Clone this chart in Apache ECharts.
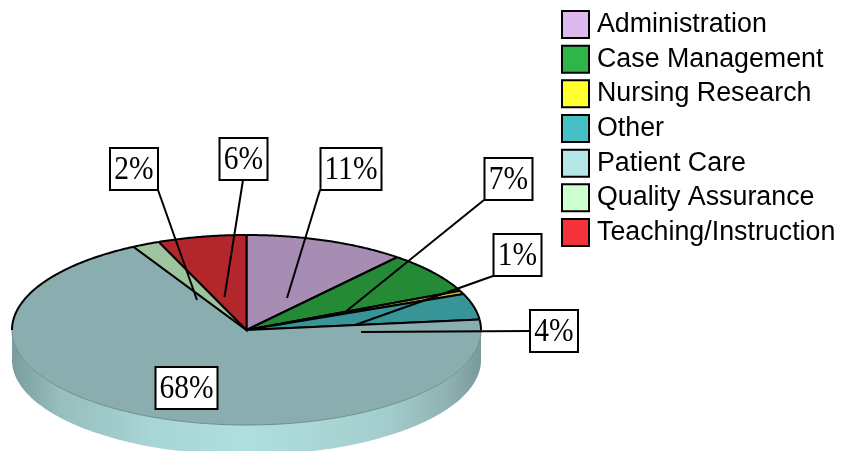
<!DOCTYPE html>
<html>
<head>
<meta charset="utf-8">
<style>
  html, body { margin: 0; padding: 0; background: #fff; }
  #chart { width: 843px; height: 451px; }
</style>
<script src="https://cdn.jsdelivr.net/npm/echarts@6/dist/echarts.min.js"></script>
</head>
<body>
<div id="chart"></div>
<script>
const categories = ['Administration', 'Case Management', 'Nursing Research', 'Other', 'Patient Care', 'Quality Assurance', 'Teaching/Instruction'];
const shares = [11.1, 7.1, 0.6, 4.4, 68.7, 1.9, 6.1];
const shareLabels = ['11%', '7%', '1%', '4%', '68%', '2%', '6%'];

const legendColors = ['#DDB9EE', '#2FB548', '#FFFF2F', '#45C1C5', '#B5E6E8', '#CFFFCF', '#F5313B'];
const faceColors = ['#A78DB3', '#258A35', '#C2B72A', '#379497', '#8AAEAF', '#9DC49C', '#B3262B'];

/* Pie ellipse */
const cx = 246.5;
const cy = 330;
const rx = 234.5;
const ry = 95;
const depth = 30;

const total = shares.reduce((a, b) => a + b, 0);

// angle is clockwise from 12 o'clock, in degrees
const pointAt = (deg, drop = 0) => {
  const rad = (deg * Math.PI) / 180;
  return [cx + rx * Math.sin(rad), cy - ry * Math.cos(rad) + drop];
};

const arcPoints = (from, to, drop = 0) => {
  const pts = [];
  const steps = Math.max(2, Math.ceil(Math.abs(to - from) * 2));
  for (let i = 0; i <= steps; i++) {
    pts.push(pointAt(from + ((to - from) * i) / steps, drop));
  }
  return pts;
};

const sideGradient = new echarts.graphic.LinearGradient(0, 0, 1, 0, [
  { offset: 0, color: '#7A9C9C' },
  { offset: 0.1, color: '#97BDBD' },
  { offset: 0.3, color: '#A8D5D5' },
  { offset: 0.5, color: '#B0DFDF' },
  { offset: 0.8, color: '#A3CDCD' },
  { offset: 0.93, color: '#8FB1B1' },
  { offset: 1, color: '#789A9A' }
]);

const renderSlice = (params, api) => {
  const from = (api.value(0) / total) * 360;
  const to = from + (api.value(1) / total) * 360;
  const index = params.seriesIndex;
  const children = [];

  // rim, only where the slice faces the viewer
  const sideFrom = Math.max(from, 90);
  const sideTo = Math.min(to, 270);
  if (sideTo > sideFrom) {
    const upper = arcPoints(sideFrom, sideTo);
    const lower = arcPoints(sideFrom, sideTo, depth).reverse();
    children.push({
      type: 'polygon',
      shape: { points: upper.concat(lower) },
      style: { fill: sideGradient, stroke: null }
    });
  }

  children.push({
    type: 'polygon',
    shape: { points: [[cx, cy]].concat(arcPoints(from, to)) },
    style: { fill: faceColors[index], stroke: null }
  });

  // thin edge along the front of the top face
  if (sideTo > sideFrom) {
    children.push({
      type: 'polyline',
      shape: { points: arcPoints(sideFrom, sideTo) },
      style: { fill: null, stroke: '#6C8A8A', lineWidth: 1 }
    });
  }

  // black outline: radials and the back half of the arc
  const backPts = [];
  if (from < 90) backPts.push(arcPoints(from, Math.min(to, 90)));
  if (to > 270) backPts.push(arcPoints(Math.max(from, 270), to));
  backPts.forEach(points => {
    children.push({
      type: 'polyline',
      shape: { points },
      style: { fill: null, stroke: '#000', lineWidth: 2 }
    });
  });
  children.push({
    type: 'polyline',
    shape: { points: [pointAt(from), [cx, cy], pointAt(to)] },
    style: { fill: null, stroke: '#000', lineWidth: 2, lineJoin: 'miter' }
  });

  return { type: 'group', children };
};

let running = 0;
const series = categories.map((name, i) => {
  const start = running;
  running += shares[i];
  return {
    name,
    type: 'custom',
    coordinateSystem: 'none',
    silent: true,
    itemStyle: { color: legendColors[i], borderColor: '#000', borderWidth: 2 },
    renderItem: renderSlice,
    data: [[start, shares[i]]]
  };
});

/* Callouts: box [x, y, w, h], leader [x1, y1, x2, y2] */
const calloutBoxes = [
  [320.5, 148, 61, 42],
  [484.5, 158, 48, 42],
  [493.5, 234, 48, 42],
  [530, 310, 48, 42],
  [155.5, 367, 62, 42],
  [110, 148, 48, 42],
  [219.5, 138, 48, 42]
];
const calloutLeaders = [
  [320, 190, 287, 298],
  [484, 200, 344, 313],
  [493, 276, 355, 325],
  [530, 331, 361, 332],
  null,
  [158, 190, 197, 300],
  [243, 180, 224.5, 297]
];

const calloutGraphics = [];
shareLabels.forEach((text, i) => {
  const [x, y, w, h] = calloutBoxes[i];
  if (calloutLeaders[i]) {
    const [x1, y1, x2, y2] = calloutLeaders[i];
    calloutGraphics.push({
      type: 'line',
      z: 100,
      shape: { x1, y1, x2, y2 },
      style: { stroke: '#000', lineWidth: 2 }
    });
  }
  calloutGraphics.push({
    type: 'rect',
    z: 101,
    shape: { x, y, width: w, height: h },
    style: { fill: '#fff', stroke: '#000', lineWidth: 2 }
  });
  calloutGraphics.push({
    type: 'text',
    z: 102,
    x: x + w / 2,
    y: y + h / 2 + 1,
    scaleY: 1.12,
    style: {
      x: 0,
      y: 0,
      text,
      fill: '#000',
      font: '29.5px "Liberation Serif"',
      align: 'center',
      verticalAlign: 'middle'
    }
  });
});

const chart = echarts.init(document.getElementById('chart'));
chart.setOption({
  animation: false,
  backgroundColor: '#fff',
  legend: {
    data: categories,
    orient: 'vertical',
    left: 561,
    top: 10,
    padding: 0,
    itemWidth: 27,
    itemHeight: 27,
    itemGap: 5.67,
    selectedMode: false,
    icon: 'rect',
    textStyle: {
      color: '#000',
      fontFamily: 'Liberation Sans',
      fontSize: 26.8,
      lineHeight: 27,
      padding: [0, 0, 0, 3]
    }
  },
  graphic: { elements: calloutGraphics },
  series
});
</script>
</body>
</html>
